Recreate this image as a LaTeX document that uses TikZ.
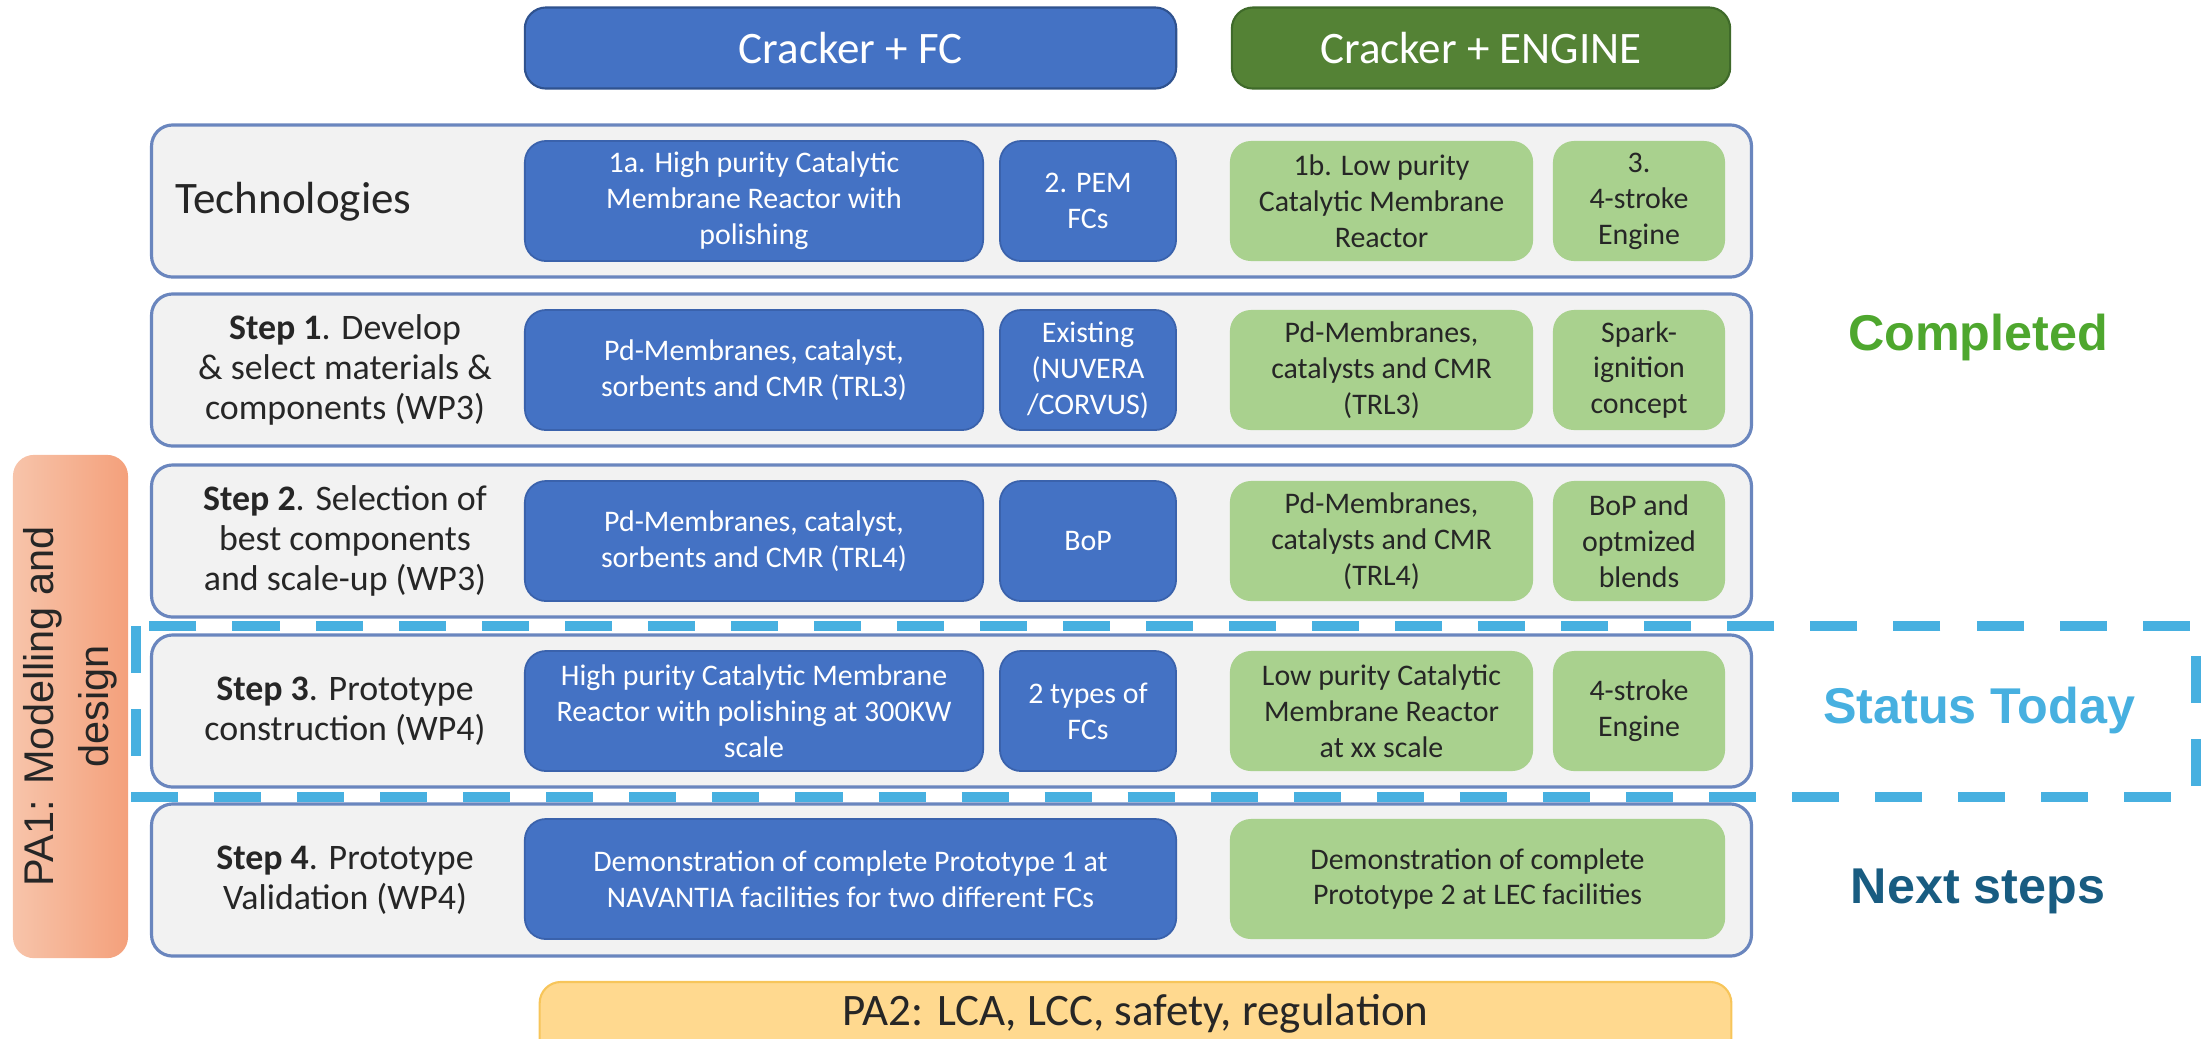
\documentclass[tikz,border=0pt]{standalone}
\usepackage{fontspec}
\setmainfont{Carlito}
\newfontfamily\labelfont{Liberation Sans}
\usepackage{tikz}
\usetikzlibrary{positioning}

\definecolor{fcblue}{HTML}{4472C4}
\definecolor{fcedge}{HTML}{3A62AC}
\definecolor{headedge}{HTML}{2F528F}
\definecolor{enggreen}{HTML}{548235}
\definecolor{engedge}{HTML}{3F6A2A}
\definecolor{lightgreen}{HTML}{A9D18E}
\definecolor{panelfill}{HTML}{F2F2F2}
\definecolor{paneledge}{HTML}{6A86BE}
\definecolor{boxtext}{HTML}{262626}
\definecolor{todayblue}{HTML}{47B0E0}
\definecolor{donegreen}{HTML}{4EA72E}
\definecolor{nextblue}{HTML}{185C81}
\definecolor{pafrom}{HTML}{F7C4AA}
\definecolor{pato}{HTML}{F4A07B}
\definecolor{pafill}{HTML}{FFD98F}
\definecolor{paedge}{HTML}{F7C55A}

\begin{document}
\begin{tikzpicture}[
    x=0.01cm, y=-0.01cm,
    header/.style={rectangle, rounded corners=6pt, line width=0.6pt, minimum height=0.81cm, text=white, font=\fontsize{12.8}{15}\selectfont},
    panel/.style={rectangle, draw=paneledge, line width=0.9pt, fill=panelfill, rounded corners=6pt, minimum width=15.99cm, minimum height=1.52cm, inner sep=0pt},
    bluebox/.style={rectangle, draw=fcedge, line width=0.5pt, fill=fcblue, rounded corners=6pt, minimum height=1.2cm, inner sep=0pt, align=center, text=white, font=\fontsize{8.5}{10.2}\selectfont},
    greenbox/.style={rectangle, fill=lightgreen, rounded corners=6pt, minimum height=1.2cm, inner sep=0pt, align=center, text=boxtext, font=\fontsize{8.5}{10.2}\selectfont},
    steplabel/.style={align=center, text=boxtext, font=\fontsize{10.2}{11.4}\selectfont},
    status/.style={font=\labelfont\bfseries\fontsize{14.3}{17}\selectfont},
    todaybox/.style={draw=todayblue, line width=3.1pt, dash pattern=on 0.47cm off 0.36cm},
]
    \useasboundingbox (0,0) rectangle (2210,1038);
    \clip (0,0) rectangle (2210,1038);

    % Column headers
    \node[header, fill=fcblue, draw=headedge, minimum width=6.51cm] (fc) at (850.5,48) {Cracker + FC};
    \node[header, fill=enggreen, draw=engedge, minimum width=4.98cm] (engine) at (1481,48) {Cracker + ENGINE};

    % Row panels
    \node[panel] (tech) at (951.5,201) {};
    \node[panel] (step1) at (951.5,370) {};
    \node[panel] (step2) at (951.5,541) {};
    \node[panel] (step3) at (951.5,711) {};
    \node[panel] (step4) at (951.5,880) {};

    % Row labels
    \node[anchor=west, text=boxtext, font=\fontsize{12.8}{15}\selectfont] (techlabel) at (163,202) {Technologies};
    \node[steplabel] (step1label) at (345,370) {\textbf{Step 1}. Develop\\\& select materials \&\\components (WP3)};
    \node[steplabel] (step2label) at (345,541) {\textbf{Step 2}. Selection of\\best components\\and scale-up (WP3)};
    \node[steplabel] (step3label) at (345,711) {\textbf{Step 3}. Prototype\\construction (WP4)};
    \node[steplabel] (step4label) at (345,880) {\textbf{Step 4}. Prototype\\Validation (WP4)};

    % Technologies
    \node[bluebox, minimum width=4.58cm] (tech1a) at (754,201) {1a. High purity Catalytic\\Membrane Reactor with\\polishing};
    \node[bluebox, minimum width=1.76cm] (tech2) at (1088,201) {2. PEM\\FCs};
    \node[greenbox, minimum width=3.03cm] (tech1b) at (1381.5,201) {1b. Low purity\\Catalytic Membrane\\Reactor};
    \node[greenbox, minimum width=1.72cm] (tech3) at (1639,201) {3.\\4-stroke\\Engine};

    % Step 1
    \node[bluebox, minimum width=4.58cm] (s1fc) at (754,370) {Pd-Membranes, catalyst,\\sorbents and CMR (TRL3)};
    \node[bluebox, minimum width=1.76cm] (s1pem) at (1088,370) {Existing\\(NUVERA\\/CORVUS)};
    \node[greenbox, minimum width=3.03cm] (s1cmr) at (1381.5,370) {Pd-Membranes,\\catalysts and CMR\\(TRL3)};
    \node[greenbox, minimum width=1.72cm] (s1eng) at (1639,370) {Spark-\\ignition\\concept};

    % Step 2
    \node[bluebox, minimum width=4.58cm] (s2fc) at (754,541) {Pd-Membranes, catalyst,\\sorbents and CMR (TRL4)};
    \node[bluebox, minimum width=1.76cm] (s2pem) at (1088,541) {BoP};
    \node[greenbox, minimum width=3.03cm] (s2cmr) at (1381.5,541) {Pd-Membranes,\\catalysts and CMR\\(TRL4)};
    \node[greenbox, minimum width=1.72cm] (s2eng) at (1639,541) {BoP and\\optmized\\blends};

    % Step 3
    \node[bluebox, minimum width=4.58cm] (s3fc) at (754,711) {High purity Catalytic Membrane\\Reactor with polishing at 300KW\\scale};
    \node[bluebox, minimum width=1.76cm] (s3pem) at (1088,711) {2 types of\\FCs};
    \node[greenbox, minimum width=3.03cm] (s3cmr) at (1381.5,711) {Low purity Catalytic\\Membrane Reactor\\at xx scale};
    \node[greenbox, minimum width=1.72cm] (s3eng) at (1639,711) {4-stroke\\Engine};

    % Step 4
    \node[bluebox, minimum width=6.51cm] (s4fc) at (850.5,879) {Demonstration of complete Prototype 1 at\\NAVANTIA facilities for two different FCs};
    \node[greenbox, minimum width=4.95cm] (s4eng) at (1477.5,879) {Demonstration of complete\\Prototype 2 at LEC facilities};

    % Cross-cutting activities
    \node[rectangle, rounded corners=6pt, left color=pafrom, right color=pato, minimum width=1.15cm, minimum height=5.03cm] (pa1) at (70.5,706.5) {};
    \node[rotate=90, align=center, text=boxtext, font=\labelfont\fontsize{11.8}{15.5}\selectfont] (pa1text) at (pa1.center) {PA1: Modelling and\\design};
    \node[rectangle, rounded corners=6pt, fill=pafill, draw=paedge, line width=0.6pt, minimum width=11.91cm, minimum height=1.1cm] (pa2) at (1135.5,1037) {};
    \node[text=boxtext, font=\fontsize{12.8}{15}\selectfont] (pa2text) at (1135.5,1014) {PA2: LCA, LCC, safety, regulation};

    % Status
    \draw[todaybox] (136,626) rectangle (2196,797);
    \node[status, text=donegreen] (done) at (1978,337) {Completed};
    \node[status, text=todayblue] (today) at (1979,710) {Status Today};
    \node[status, text=nextblue] (next) at (1978,891) {Next steps};
\end{tikzpicture}
\end{document}
